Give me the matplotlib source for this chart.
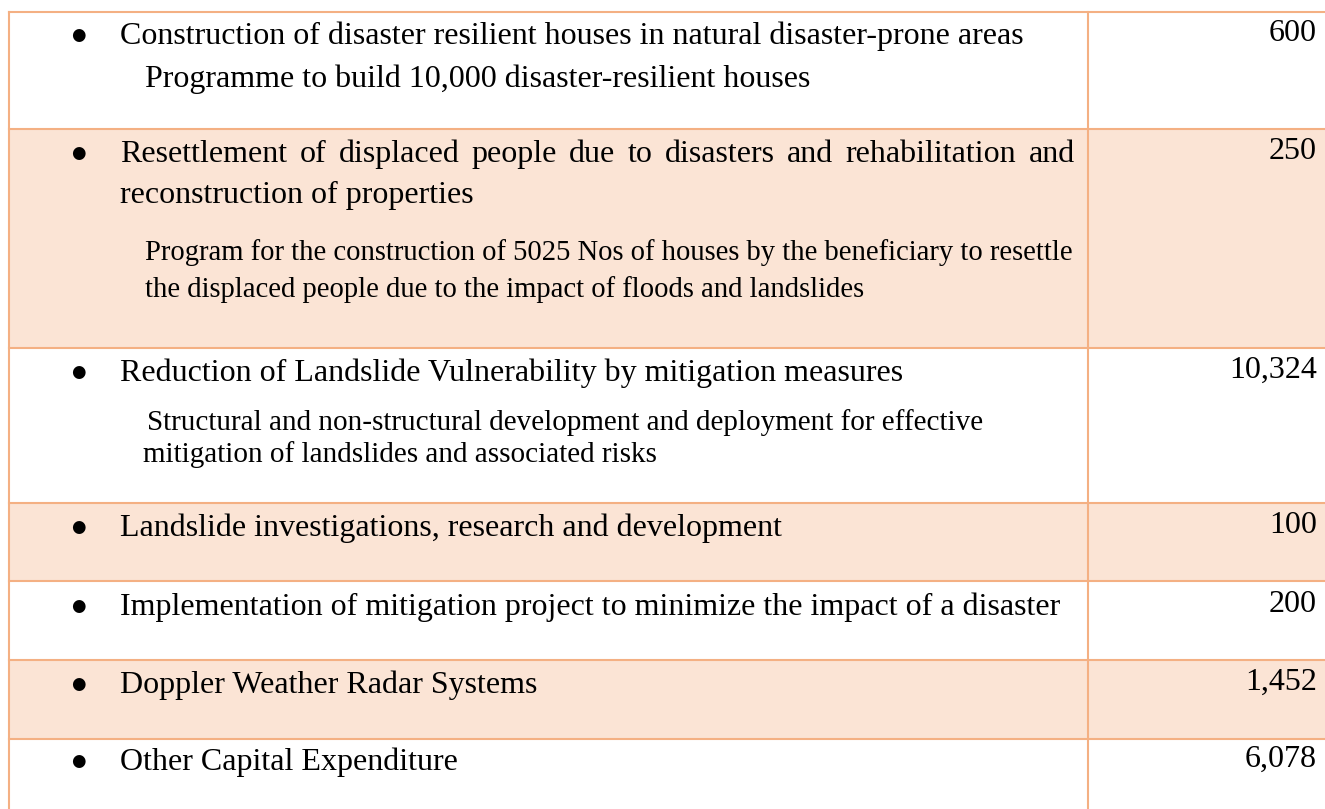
import matplotlib
matplotlib.use("Agg")
import matplotlib.pyplot as plt
from matplotlib.patches import Rectangle

# table content
items = [
    "Construction of disaster resilient houses in natural disaster-prone areas",
    "Resettlement of displaced people due to disasters and rehabilitation and\nreconstruction of properties",
    "Reduction of Landslide Vulnerability by mitigation measures",
    "Landslide investigations, research and development",
    "Implementation of mitigation project to minimize the impact of a disaster",
    "Doppler Weather Radar Systems",
    "Other Capital Expenditure",
]
details = [
    ["Programme to build 10,000 disaster-resilient houses"],
    ["Program for the construction of 5025 Nos of houses by the beneficiary to resettle",
     "the displaced people due to the impact of floods and landslides"],
    ["Structural and non-structural development and deployment for effective",
     "mitigation of landslides and associated risks"],
    [], [], [], [],
]
amounts = [600, 250, 10324, 100, 200, 1452, 6078]

# layout (pixels)
W, H = 1325, 809
row_edges = [12, 129, 348, 503, 581, 660, 739, 809]
x_left, x_div = 9, 1088
border = "#F4B083"
shade = "#FBE4D5"
font = "Liberation Serif"

fig = plt.figure(figsize=(W / 100, H / 100), dpi=100)
ax = fig.add_axes([0, 0, 1, 1])
ax.set_xlim(0, W)
ax.set_ylim(H, 0)
ax.axis("off")

for i in range(len(items)):
    top, bot = row_edges[i], row_edges[i + 1]
    if i % 2 == 1:
        ax.add_patch(Rectangle((x_left, top), W - x_left, bot - top,
                               facecolor=shade, edgecolor="none", zorder=0))

for y in row_edges[:-1]:
    ax.plot([x_left, W], [y, y], color=border, lw=1.5, zorder=2)
for x in (x_left, x_div):
    ax.plot([x, x], [row_edges[0], H], color=border, lw=1.5, zorder=2)

fig.canvas.draw()
renderer = fig.canvas.get_renderer()


def text_width(s, size):
    t = ax.text(0, 0, s, fontsize=size, family=font)
    w = t.get_window_extent(renderer).width
    t.remove()
    return w


def justified(s, x0, x1, y, size):
    words = s.split()
    widths = [text_width(w, size) for w in words]
    gap = (x1 - x0 - sum(widths)) / (len(words) - 1)
    x = x0
    for w, wd in zip(words, widths):
        ax.text(x, y, w, fontsize=size, family=font, va="baseline")
        x += wd + gap


main_size = 23
sub_sizes = [23, 20.6, 21]
main_base = [44, 162, 381, 536, 615, 693, 770]
sub_base = [[87], [260, 297], [430, 462], [], [], [], []]
sub_x = [[145], [145, 145], [147, 143], [], [], [], []]

for i, name in enumerate(items):
    yb = main_base[i]
    ax.text(78, yb - 9, "\u25CF", fontsize=12, family="DejaVu Sans",
            ha="center", va="center")
    lines = name.split("\n")
    for k, line in enumerate(lines):
        if k < len(lines) - 1:
            justified(line, 120, 1075, yb + 41 * k, main_size)
        else:
            ax.text(120, yb + 41 * k, line, fontsize=main_size, family=font,
                    va="baseline")
    for line, xs, ys in zip(details[i], sub_x[i], sub_base[i]):
        ax.text(xs, ys, line, fontsize=sub_sizes[i], family=font, va="baseline")
    ax.text(1317, yb - 3, f"{amounts[i]:,}", fontsize=main_size, family=font,
            ha="right", va="baseline")

fig.savefig("out.png", dpi=100)
